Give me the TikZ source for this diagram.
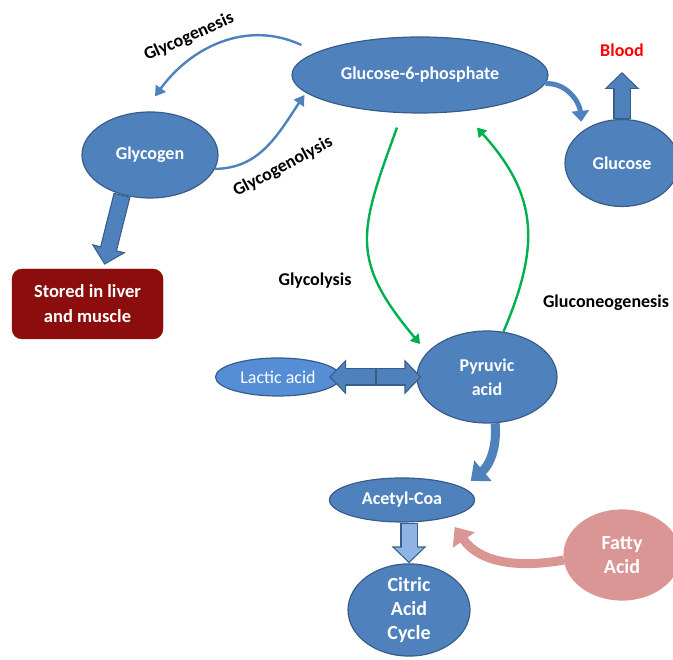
\documentclass[tikz,border=0pt]{standalone}
\usepackage{fontspec}
\setmainfont{Carlito}
\usepackage{tikz}
\usetikzlibrary{shapes.geometric,arrows.meta}
\definecolor{ovalblue}{HTML}{4F81BD}
\definecolor{ovaledge}{HTML}{385D8A}
\definecolor{lacticblue}{HTML}{558ED5}
\definecolor{citricfill}{HTML}{8DB4E2}
\definecolor{storedred}{HTML}{8B0D0D}
\definecolor{fattypink}{HTML}{D99694}
\definecolor{pathgreen}{HTML}{00B050}
\tikzstyle{Oval}=[ellipse, fill=ovalblue, draw=ovaledge, line width=1.2pt, text=white, align=center, inner sep=0pt, font=\bfseries\fontsize{18}{24}\selectfont]
\tikzstyle{Tag}=[font=\bfseries\fontsize{18}{22}\selectfont, inner sep=0pt]
\tikzstyle{Thin}=[ovalblue, line width=2.4pt, -{Triangle[length=10pt,width=12pt]}]
\tikzstyle{Green}=[pathgreen, line width=2.4pt, -{Triangle[length=9pt,width=11pt]}]
\tikzstyle{Bend}=[ovalblue, line width=5pt, -{Triangle[length=11pt,width=17pt]}]
\tikzstyle{Fat}=[ovalblue, line width=9pt, -{Triangle[length=16pt,width=26pt]}]
\tikzstyle{Block}=[ovalblue, line width=15pt, -{Triangle[length=14.1pt,width=28.2pt]}, shorten >=1.7pt, shorten <=1.2pt,
  preaction={draw=ovaledge, line width=17.4pt, shorten >=0pt, shorten <=0pt, -{Triangle[length=17pt,width=34pt]}}]

\begin{document}
\begin{tikzpicture}[x=1pt, y=1pt]
    \useasboundingbox (0,0) rectangle (673,660);

    \path
    (420,585) node[Oval, minimum width=256pt, minimum height=76pt] (g6p) {Glucose-6-phosphate}
    (150,505) node[Oval, minimum width=136pt, minimum height=86pt] (glycogen) {Glycogen}
    (622,497) node[Oval, minimum width=114pt, minimum height=87pt] (glucose) {Glucose}
    (487,283) node[Oval, minimum width=140pt, minimum height=92pt] (pyruvic) {Pyruvic\\acid}
    (278,283) node[Oval, fill=lacticblue, font=\fontsize{18}{22}\selectfont, minimum width=125pt, minimum height=38pt] (lactic) {Lactic acid}
    (402,160) node[Oval, minimum width=145pt, minimum height=44pt] (acetyl) {Acetyl-Coa}
    (409,50) node[Oval, font=\bfseries\fontsize{20}{24}\selectfont, minimum width=122pt, minimum height=92pt] (citric) {Citric\\Acid\\Cycle}
    (622,105) node[Oval, fill=fattypink, draw=fattypink, font=\bfseries\fontsize{20}{24}\selectfont, minimum width=116pt, minimum height=90pt] (fatty) {Fatty\\Acid}
    (87.5,356) node[rectangle, rounded corners=10pt, fill=storedred, draw=storedred, text=white, align=center, font=\bfseries\fontsize{18.5}{25}\selectfont, minimum width=151pt, minimum height=70pt] (stored) {Stored in liver\\and muscle};

    \path
    (622,603) node[Tag, anchor=south, text=red] (blood) {Blood}
    (189,623) node[Tag, rotate=24] (genesis) {Glycogenesis}
    (283,493) node[Tag, rotate=28] (lysis) {Glycogenolysis}
    (315,379) node[Tag] (glycolysis) {Glycolysis}
    (606,357) node[Tag] (gluconeo) {Gluconeogenesis};

    % glycogen <-> glucose-6-phosphate
    \draw[Thin] ([xshift=10pt,yshift=30pt]g6p.west) to[out=155, in=54] ([xshift=5pt,yshift=15pt]glycogen.north);
    \draw[Thin] (glycogen.-12) to[out=0, in=236] ([xshift=13pt,yshift=-20pt]g6p.west);
    \draw[Block] (glycogen.235) -- ([xshift=17pt,yshift=4pt]stored.north);

    % glucose to blood
    \draw[Bend] (g6p.-4) to[out=5, in=95] ([yshift=10pt]glucose.north west);
    \draw[Block] (glucose.north) -- ([yshift=-15pt]blood.south);

    % glycolysis / gluconeogenesis
    \draw[Green] ([xshift=-23pt,yshift=-14pt]g6p.south) to[out=-110, in=130, looseness=1.3] ([xshift=-17pt]pyruvic.north west);
    \draw[Green] (pyruvic.70) to[out=67, in=-48, looseness=1.15] ([xshift=57pt,yshift=-14pt]g6p.south);

    \coordinate (mid) at (376,283);
    \draw[Block] (mid) -- ([xshift=-12pt]lactic.east);
    \draw[Block] (mid) -- ([xshift=5pt]pyruvic.west);

    % into the citric acid cycle
    \draw[Fat] (pyruvic.-80) to[out=-85, in=40] ([xshift=17pt,yshift=3pt]acetyl.north east);
    \draw[Fat, fattypink] (fatty.185) to[out=190, in=-55] ([xshift=1pt,yshift=-11pt]acetyl.south east);
    \draw[Block, citricfill] (citric.north |- acetyl.south) -- (citric.north);
\end{tikzpicture}
\end{document}
